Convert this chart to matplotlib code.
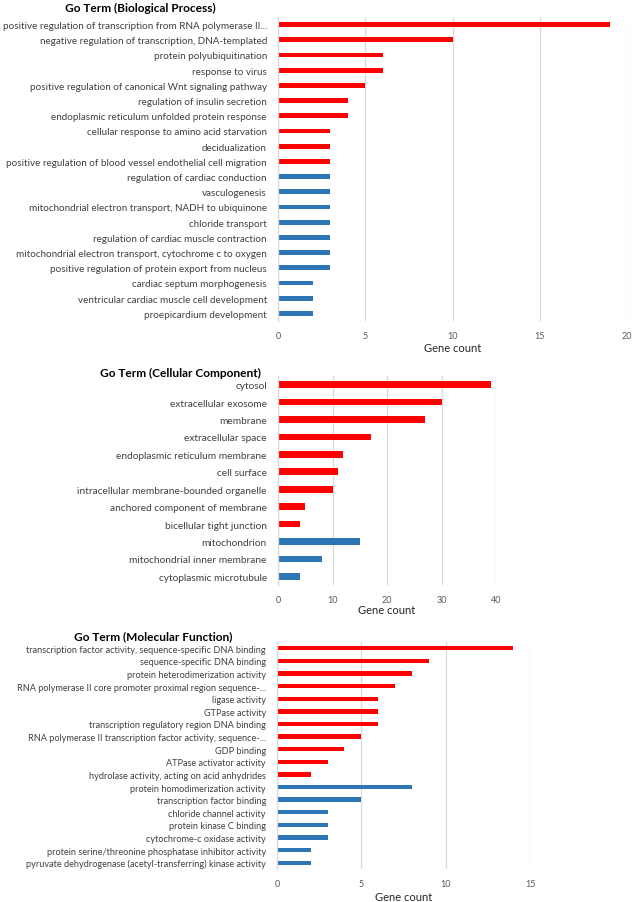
import matplotlib
matplotlib.use('Agg')
import matplotlib.pyplot as plt

# GO terms, gene counts and regulation direction for each panel
bp_terms = [
    'positive regulation of transcription from RNA polymerase II...',
    'negative regulation of transcription, DNA-templated',
    'protein polyubiquitination',
    'response to virus',
    'positive regulation of canonical Wnt signaling pathway',
    'regulation of insulin secretion',
    'endoplasmic reticulum unfolded protein response',
    'cellular response to amino acid starvation',
    'decidualization',
    'positive regulation of blood vessel endothelial cell migration',
    'regulation of cardiac conduction',
    'vasculogenesis',
    'mitochondrial electron transport, NADH to ubiquinone',
    'chloride transport',
    'regulation of cardiac muscle contraction',
    'mitochondrial electron transport, cytochrome c to oxygen',
    'positive regulation of protein export from nucleus',
    'cardiac septum morphogenesis',
    'ventricular cardiac muscle cell development',
    'proepicardium development',
]
bp_counts = [19, 10, 6, 6, 5, 4, 4, 3, 3, 3, 3, 3, 3, 3, 3, 3, 3, 2, 2, 2]
bp_dir = ['up'] * 10 + ['down'] * 10

cc_terms = [
    'cytosol',
    'extracellular exosome',
    'membrane',
    'extracellular space',
    'endoplasmic reticulum membrane',
    'cell surface',
    'intracellular membrane-bounded organelle',
    'anchored component of membrane',
    'bicellular tight junction',
    'mitochondrion',
    'mitochondrial inner membrane',
    'cytoplasmic microtubule',
]
cc_counts = [39, 30, 27, 17, 12, 11, 10, 5, 4, 15, 8, 4]
cc_dir = ['up'] * 9 + ['down'] * 3

mf_terms = [
    'transcription factor activity, sequence-specific DNA binding',
    'sequence-specific DNA binding',
    'protein heterodimerization activity',
    'RNA polymerase II core promoter proximal region sequence-...',
    'ligase activity',
    'GTPase activity',
    'transcription regulatory region DNA binding',
    'RNA polymerase II transcription factor activity, sequence-...',
    'GDP binding',
    'ATPase activator activity',
    'hydrolase activity, acting on acid anhydrides',
    'protein homodimerization activity',
    'transcription factor binding',
    'chloride channel activity',
    'protein kinase C binding',
    'cytochrome-c oxidase activity',
    'protein serine/threonine phosphatase inhibitor activity',
    'pyruvate dehydrogenase (acetyl-transferring) kinase activity',
]
mf_counts = [14, 9, 8, 7, 6, 6, 6, 5, 4, 3, 2, 8, 5, 3, 3, 3, 2, 2]
mf_dir = ['up'] * 11 + ['down'] * 7

colors = {'up': '#FF0000', 'down': '#2E75B6'}

W, H = 634, 903
fig = plt.figure(figsize=[W / 100, H / 100], dpi=100)
font = 'Lato'


def px_axes(left, top, right, bottom):
    return fig.add_axes([left / W, 1 - bottom / H, (right - left) / W, (bottom - top) / H])


def draw_panel(box, terms, counts, dirs, xmax, ticks, hfrac, lsize, title, title_xy, label_y):
    ax = px_axes(*box)
    y = list(range(len(terms)))
    ax.barh(y, counts, height=hfrac, color=[colors[d] for d in dirs])
    ax.set_yticks(y)
    ax.set_yticklabels(terms, fontsize=lsize, color='#404040', family=font)
    ax.set_ylim(len(terms) - 0.5, -0.5)
    ax.set_xlim(0, xmax)
    ax.set_xticks(ticks)
    ax.set_xticklabels([str(t) for t in ticks], fontsize=6.5, color='#595959', family=font)
    ax.tick_params(axis='both', length=0)
    ax.tick_params(axis='y', pad=8)
    ax.tick_params(axis='x', pad=7)
    ax.grid(axis='x', color='#d9d9d9', linewidth=0.9)
    ax.set_axisbelow(True)
    for s in ['top', 'right', 'bottom']:
        ax.spines[s].set_visible(False)
    ax.spines['left'].set_color('#d9d9d9')
    ax.spines['left'].set_linewidth(0.9)
    fig.text(title_xy[0] / W, 1 - title_xy[1] / H, title, fontsize=8.6, fontweight='bold',
             family=font, ha='left', va='center')
    cx = (box[0] + box[2]) / 2
    fig.text(cx / W, 1 - label_y / H, 'Gene count', fontsize=8, family=font,
             ha='center', va='center', color='#262626')
    return ax


draw_panel((278, 18, 627, 322), bp_terms, bp_counts, bp_dir, 20, [0, 5, 10, 15, 20],
           0.32, 7.15, 'Go Term (Biological Process)', (65, 8), 349)
draw_panel((278, 377, 496, 586), cc_terms, cc_counts, cc_dir, 40, [0, 10, 20, 30, 40],
           0.38, 7.3, 'Go Term (Cellular Component)', (100, 373), 611)
draw_panel((277, 643, 530, 870), mf_terms, mf_counts, mf_dir, 15, [0, 5, 10, 15],
           0.34, 6.6, 'Go Term (Molecular Function)', (74, 637), 898)

plt.savefig('out.png', dpi=100)
plt.close()
